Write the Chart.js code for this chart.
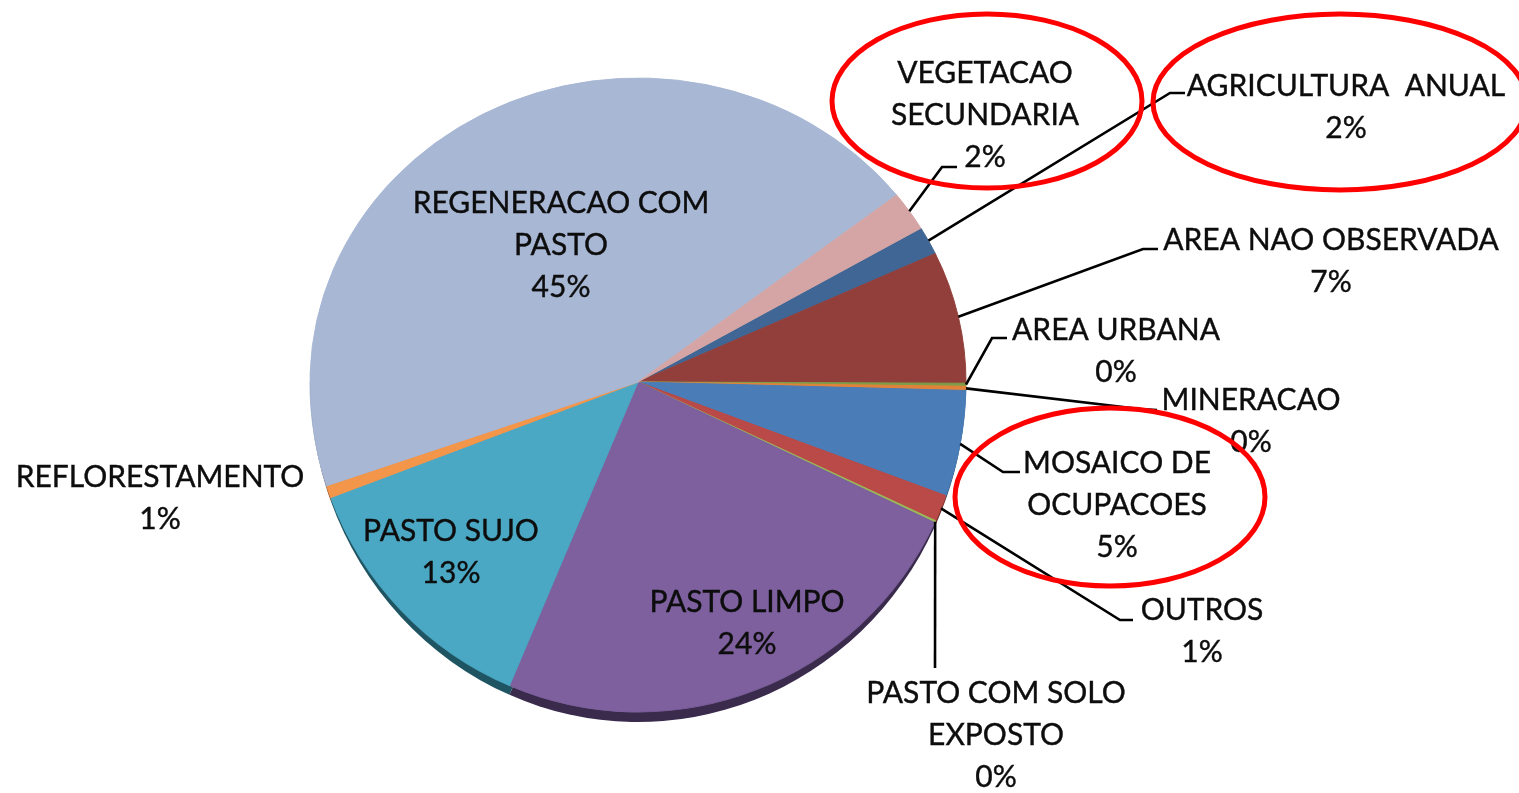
<!DOCTYPE html>
<html>
<head>
<meta charset="utf-8">
<script src="https://cdn.jsdelivr.net/npm/chart.js@4.4.1/dist/chart.umd.min.js"></script>
<style>
  html, body { margin: 0; padding: 0; background: #fff; }
  #wrap { position: relative; width: 1519px; height: 793px; }
</style>
</head>
<body>
<div id="wrap"><canvas id="pieChart" width="1519" height="793"></canvas></div>
<script>
// categories (already wrapped the way the labels are shown) and their shares in %
const categories = [
    ['AGRICULTURA  ANUAL'],
    ['AREA NAO OBSERVADA'],
    ['AREA URBANA'],
    ['MINERACAO'],
    ['MOSAICO DE', 'OCUPACOES'],
    ['OUTROS'],
    ['PASTO COM SOLO', 'EXPOSTO'],
    ['PASTO LIMPO'],
    ['PASTO SUJO'],
    ['REFLORESTAMENTO'],
    ['REGENERACAO COM', 'PASTO'],
    ['VEGETACAO', 'SECUNDARIA']
];
const shares = [1.5, 7.0, 0.15, 0.2, 5.2, 1.3, 0.1, 24.4, 12.9, 0.6, 44.55, 2.1];

const sliceColors = ['#3F6694', '#923F3B', '#7E9D48', '#E0833A', '#4A7DB8', '#BA4A47',
                     '#9BBB59', '#7D609D', '#4BA8C4', '#F4964A', '#A8B7D4', '#D4A5A4'];
const sideColors  = ['#22384F', '#4F2220', '#445527', '#7A4720', '#284464', '#652826',
                     '#556832', '#3A2B4D', '#1F5563', '#854F26', '#5B6476', '#735858'];

// where each label block sits (centre x, first line y) and its leader line bends
const labelSpots = [
    { x: 1346, y: 86,  elbow: [1170, 93],  end: [1185, 93] },
    { x: 1331, y: 240, elbow: [1143, 249], end: [1158, 249] },
    { x: 1116, y: 330, elbow: [992, 338],  end: [1007, 338] },
    { x: 1251, y: 400, elbow: [1140, 409], end: [1157, 410] },
    { x: 1117, y: 463, elbow: [1003, 472], end: [1020, 472] },
    { x: 1202, y: 610, elbow: [1120, 620], end: [1133, 620] },
    { x: 996,  y: 693, elbow: [935, 668],  end: [935, 668] },
    { x: 747,  y: 602 },
    { x: 451,  y: 531 },
    { x: 160,  y: 477 },
    { x: 561,  y: 203 },
    { x: 985,  y: 73,  elbow: [942, 167],  end: [957, 167] }
];

// red hand-drawn style circles around some labels
const highlights = [
    { x: 987,  y: 101, rx: 155, ry: 87 },
    { x: 1340, y: 102, rx: 187, ry: 88 },
    { x: 1110, y: 497, rx: 155, ry: 89 }
];

const RADIUS = 328;
const TOP_K = 304 / 328;     // far half looks flatter (perspective)
const BOTTOM_K = 330 / 328;
const SIDE_K = 340 / 328;    // visible thickness of the 3d wall
const LINE_H = 42;

function rimPoint(p, angle) {
    const k = Math.sin(angle) < 0 ? TOP_K : BOTTOM_K;
    return [p.x + p.outerRadius * Math.cos(angle), p.y + p.outerRadius * Math.sin(angle) * k];
}

function inHalf(chart, cy, k, top, paint) {
    const ctx = chart.ctx;
    ctx.save();
    ctx.beginPath();
    if (top) ctx.rect(0, 0, chart.width, cy + 1);
    else ctx.rect(0, cy, chart.width, chart.height - cy);
    ctx.clip();
    ctx.translate(0, cy);
    ctx.scale(1, k);
    ctx.translate(0, -cy);
    paint(ctx);
    ctx.restore();
}

const tiltedPie = {
    id: 'tiltedPie',
    beforeDatasetsDraw(chart) {
        const meta = chart.getDatasetMeta(0);
        const cy = meta.data[0].y;

        // side wall
        inHalf(chart, cy, SIDE_K, false, ctx => {
            meta.data.forEach((arc, i) => {
                const p = arc.getProps(['x', 'y', 'startAngle', 'endAngle', 'outerRadius']);
                ctx.beginPath();
                ctx.moveTo(p.x, p.y);
                ctx.arc(p.x, p.y, p.outerRadius, p.startAngle, p.endAngle);
                ctx.closePath();
                ctx.fillStyle = sideColors[i];
                ctx.fill();
            });
        });

        // top face, far half then near half
        inHalf(chart, cy, TOP_K, true, ctx => meta.data.forEach(arc => arc.draw(ctx)));
        inHalf(chart, cy, BOTTOM_K, false, ctx => meta.data.forEach(arc => arc.draw(ctx)));
        return false;
    },
    afterDraw(chart) {
        const ctx = chart.ctx;
        const meta = chart.getDatasetMeta(0);
        const total = shares.reduce((a, b) => a + b, 0);

        ctx.save();
        // leader lines
        ctx.strokeStyle = '#000';
        ctx.lineWidth = 2.6;
        meta.data.forEach((arc, i) => {
            const spot = labelSpots[i];
            if (!spot.elbow) return;
            const p = arc.getProps(['x', 'y', 'startAngle', 'endAngle', 'outerRadius']);
            const [sx, sy] = rimPoint(p, (p.startAngle + p.endAngle) / 2);
            ctx.beginPath();
            ctx.moveTo(sx, sy);
            ctx.lineTo(spot.elbow[0], spot.elbow[1]);
            ctx.lineTo(spot.end[0], spot.end[1]);
            ctx.stroke();
        });

        // labels
        ctx.font = '30px Lato';
        ctx.fillStyle = '#0d0d0d';
        ctx.strokeStyle = '#0d0d0d';
        ctx.lineWidth = 0.4;
        ctx.textAlign = 'center';
        ctx.textBaseline = 'middle';
        chart.data.labels.forEach((name, i) => {
            const spot = labelSpots[i];
            const lines = [...name, Math.round(shares[i] / total * 100) + '%'];
            lines.forEach((t, j) => {
                ctx.fillText(t, spot.x, spot.y + j * LINE_H);
                ctx.strokeText(t, spot.x, spot.y + j * LINE_H);
            });
        });

        // red circles
        ctx.strokeStyle = '#ff0000';
        ctx.lineWidth = 5;
        highlights.forEach(h => {
            ctx.beginPath();
            ctx.ellipse(h.x, h.y, h.rx, h.ry, 0, 0, Math.PI * 2);
            ctx.stroke();
        });
        ctx.restore();
    }
};

new Chart(document.getElementById('pieChart'), {
    type: 'pie',
    data: {
        labels: categories,
        datasets: [{
            data: shares,
            backgroundColor: sliceColors,
            borderColor: sliceColors,
            borderWidth: 1
        }]
    },
    options: {
        responsive: false,
        animation: false,
        devicePixelRatio: 1,
        events: [],
        rotation: 59.6,
        radius: RADIUS,
        layout: { padding: { left: 0, right: 243, top: 0, bottom: 29 } },
        plugins: {
            legend: { display: false },
            tooltip: { enabled: false }
        }
    },
    plugins: [tiltedPie]
});
</script>
</body>
</html>
